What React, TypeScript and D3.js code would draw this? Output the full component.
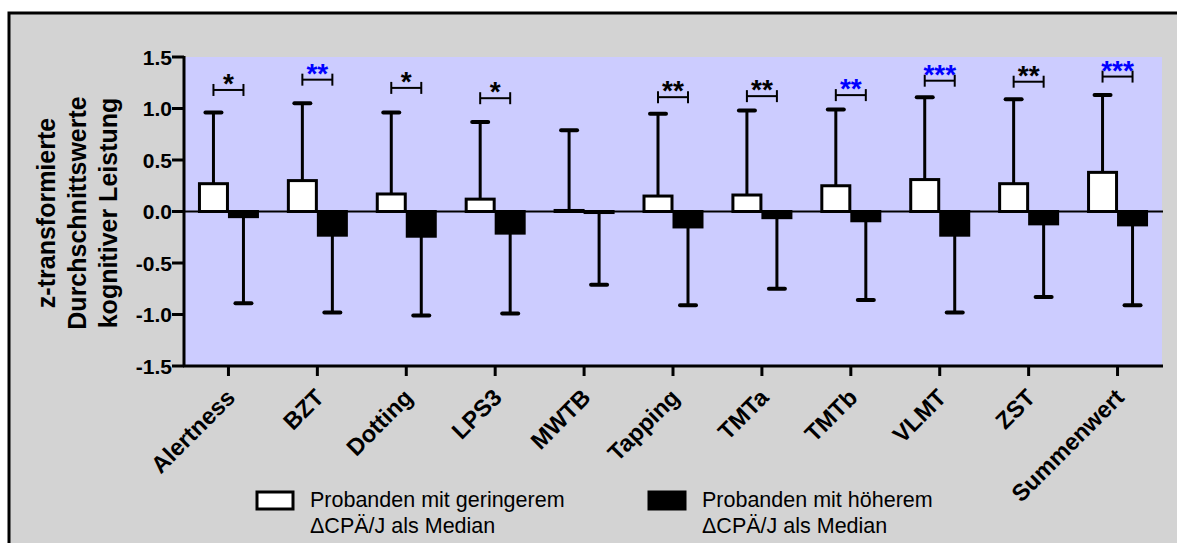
import React, { useRef, useEffect } from 'react';
import * as d3 from 'd3';

const categories = ['Alertness', 'BZT', 'Dotting', 'LPS3', 'MWTB', 'Tapping', 'TMTa', 'TMTb', 'VLMT', 'ZST', 'Summenwert'];
// Probanden mit geringerem dCPÄ/J (weiß)
const lowerMeans = [0.27, 0.30, 0.17, 0.12, 0.01, 0.15, 0.16, 0.25, 0.31, 0.27, 0.38];
const lowerSD = [0.69, 0.75, 0.79, 0.75, 0.78, 0.80, 0.82, 0.74, 0.80, 0.82, 0.75];
// Probanden mit höherem dCPÄ/J (schwarz)
const higherMeans = [-0.05, -0.23, -0.24, -0.21, -0.01, -0.15, -0.06, -0.09, -0.23, -0.12, -0.13];
const higherSD = [0.84, 0.75, 0.77, 0.78, 0.70, 0.76, 0.69, 0.77, 0.75, 0.71, 0.78];
// Signifikanz
const sigLabels = ['*', '**', '*', '*', '', '**', '**', '**', '***', '**', '***'];
const sigHighlight = [false, true, false, false, false, false, false, true, true, false, true];
const sigLevels = [1.18, 1.28, 1.20, 1.10, 0, 1.11, 1.12, 1.13, 1.27, 1.26, 1.31];
const yTicks = [-1.5, -1.0, -0.5, 0.0, 0.5, 1.0, 1.5];
const yTitle = ['z-transformierte', 'Durchschnittswerte', 'kognitiver Leistung'];
const legendItems = [
  { fill: '#ffffff', lines: ['Probanden mit geringerem', '\u0394CPÄ/J als Median'] },
  { fill: '#000000', lines: ['Probanden mit höherem', '\u0394CPÄ/J als Median'] },
];

const FONT = "Arial, 'Liberation Sans', sans-serif";

const App = () => {
  const svgRef = useRef<SVGSVGElement>(null);

  useEffect(() => {
    if (!svgRef.current) return;
    const svg = d3.select(svgRef.current);
    svg.selectAll('*').remove();

    const left = 184, right = 1162, top = 57, bottom = 366;

    const x = d3.scaleBand().domain(categories).range([left, right]).padding(0);
    const y = d3.scaleLinear().domain([-1.5, 1.5]).range([bottom, top]);

    // frame
    svg.append('rect')
      .attr('x', 9).attr('y', 13).attr('width', 1200).attr('height', 560)
      .attr('fill', '#d3d3d3').attr('stroke', '#000').attr('stroke-width', 3);

    // plot background
    svg.append('rect')
      .attr('x', left).attr('y', top).attr('width', right - left).attr('height', bottom - top)
      .attr('fill', '#ccccff');

    const g = svg.append('g');
    const half = 15;

    categories.forEach((c, i) => {
      const cx = x(c)! + x.bandwidth() / 2;
      const wx = cx - half, bx = cx + half;

      // white error bar (up)
      const wTop = y(lowerMeans[i] + lowerSD[i]);
      g.append('line').attr('x1', wx).attr('x2', wx)
        .attr('y1', y(lowerMeans[i])).attr('y2', wTop)
        .attr('stroke', '#000').attr('stroke-width', 3);
      g.append('line').attr('x1', wx - 8).attr('x2', wx + 8)
        .attr('y1', wTop).attr('y2', wTop)
        .attr('stroke', '#000').attr('stroke-width', 4).attr('stroke-linecap', 'round');

      // black error bar (down)
      const bBot = y(higherMeans[i] - higherSD[i]);
      g.append('line').attr('x1', bx).attr('x2', bx)
        .attr('y1', y(higherMeans[i])).attr('y2', bBot)
        .attr('stroke', '#000').attr('stroke-width', 3);
      g.append('line').attr('x1', bx - 8).attr('x2', bx + 8)
        .attr('y1', bBot).attr('y2', bBot)
        .attr('stroke', '#000').attr('stroke-width', 4).attr('stroke-linecap', 'round');
    });

    // zero line
    g.append('line').attr('x1', left).attr('x2', right + 1)
      .attr('y1', y(0)).attr('y2', y(0))
      .attr('stroke', '#000').attr('stroke-width', 2);

    categories.forEach((c, i) => {
      const cx = x(c)! + x.bandwidth() / 2;
      const w0 = y(0), w1 = y(lowerMeans[i]);
      g.append('rect')
        .attr('x', cx - 29).attr('width', 28)
        .attr('y', Math.min(w0, w1)).attr('height', Math.abs(w0 - w1))
        .attr('fill', '#fff').attr('stroke', '#000').attr('stroke-width', 3);
      const b1 = y(higherMeans[i]);
      g.append('rect')
        .attr('x', cx + 1).attr('width', 28)
        .attr('y', Math.min(w0, b1)).attr('height', Math.abs(b1 - w0))
        .attr('fill', '#000').attr('stroke', '#000').attr('stroke-width', 3);

      // significance bracket
      if (sigLabels[i]) {
        const sy = y(sigLevels[i]);
        const col = sigHighlight[i] ? '#0000ff' : '#000';
        const bg = g.append('g');
        bg.append('line').attr('x1', cx - half).attr('x2', cx + half)
          .attr('y1', sy).attr('y2', sy).attr('stroke', '#000').attr('stroke-width', 2);
        [cx - half, cx + half].forEach(px => {
          bg.append('line').attr('x1', px).attr('x2', px)
            .attr('y1', sy - 6).attr('y2', sy + 6).attr('stroke', '#000').attr('stroke-width', 2);
        });
        bg.append('text')
          .attr('x', cx).attr('y', sy + 3)
          .attr('text-anchor', 'middle')
          .attr('font-family', FONT).attr('font-size', 28).attr('font-weight', 'bold')
          .attr('fill', col)
          .text(sigLabels[i]);
      }
    });

    // y axis
    const ya = svg.append('g');
    ya.append('line').attr('x1', left).attr('x2', left)
      .attr('y1', top - 1).attr('y2', bottom + 1)
      .attr('stroke', '#000').attr('stroke-width', 3);
    yTicks.forEach(t => {
      ya.append('line').attr('x1', left - 12).attr('x2', left)
        .attr('y1', y(t)).attr('y2', y(t))
        .attr('stroke', '#000').attr('stroke-width', 3);
      ya.append('text')
        .attr('x', left - 12).attr('y', y(t)).attr('dy', '0.36em')
        .attr('text-anchor', 'end')
        .attr('font-family', FONT).attr('font-size', 21).attr('font-weight', 'bold')
        .text(t.toFixed(1));
    });

    // x axis
    const xa = svg.append('g');
    xa.append('line').attr('x1', left - 1).attr('x2', right + 1)
      .attr('y1', bottom).attr('y2', bottom)
      .attr('stroke', '#000').attr('stroke-width', 3);
    categories.forEach(c => {
      const cx = x(c)! + x.bandwidth() / 2;
      xa.append('line').attr('x1', cx).attr('x2', cx)
        .attr('y1', bottom).attr('y2', bottom + 10)
        .attr('stroke', '#000').attr('stroke-width', 3);
      xa.append('text')
        .attr('transform', `translate(${cx + 8},${bottom + 33}) rotate(-45)`)
        .attr('text-anchor', 'end')
        .attr('font-family', FONT).attr('font-size', 23.5).attr('font-weight', 'bold')
        .text(c);
    });

    // y title
    yTitle.forEach((line, k) => {
      svg.append('text')
        .attr('transform', `translate(${55 + k * 31},213) rotate(-90)`)
        .attr('text-anchor', 'middle')
        .attr('font-family', FONT).attr('font-size', 25).attr('font-weight', 'bold')
        .text(line);
    });

    // legend
    const lx = [257, 649];
    legendItems.forEach((item, k) => {
      svg.append('rect')
        .attr('x', lx[k]).attr('y', 492).attr('width', 36).attr('height', 17)
        .attr('fill', item.fill).attr('stroke', '#000').attr('stroke-width', 3);
      item.lines.forEach((ln, j) => {
        svg.append('text')
          .attr('x', lx[k] + 53).attr('y', 507 + j * 26)
          .attr('font-family', FONT).attr('font-size', 21.5)
          .text(ln);
      });
    });
  }, []);

  return (
    <svg ref={svgRef} width={1177} height={543}
      style={{ position: 'absolute', left: 0, top: 0, background: '#fff' }} />
  );
};

export default App;
